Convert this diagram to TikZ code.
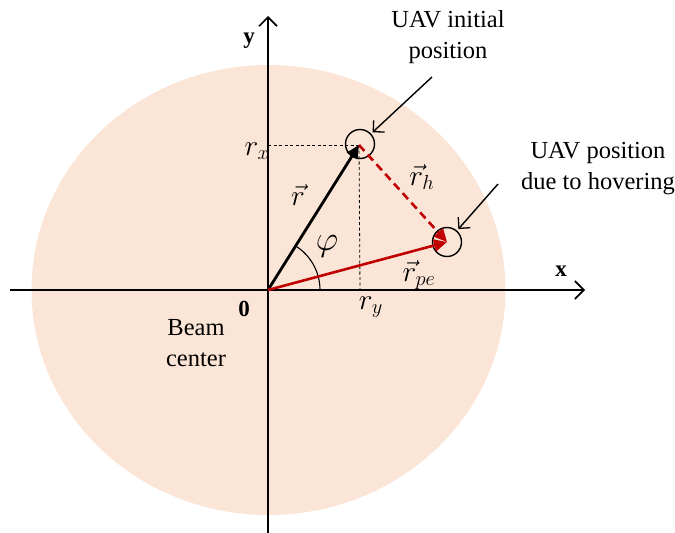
\documentclass[tikz,border=0pt]{standalone}
\usepackage{fontspec}
\setmainfont{Liberation Serif}
\usetikzlibrary{arrows.meta}
\definecolor{beam}{RGB}{251,229,214}
\definecolor{vred}{RGB}{192,0,0}
\newcommand{\mathlbl}[2]{\scalebox{#1}{$#2$}}
\begin{document}
\begin{tikzpicture}[x=1pt,y=-1pt,
  axis/.style={line width=1.8pt,-{Straight Barb[length=9pt,width=18pt,line width=1.6pt]}},
  vecblk/.style={line width=2.8pt,-{Triangle[length=13pt,width=12pt]}},
  vecred/.style={vred,line width=2.6pt,-{Triangle[length=13pt,width=12pt]}},
  vecreddash/.style={vred,line width=2.6pt,dash pattern=on 8pt off 5pt,-{Triangle[length=13pt,width=12pt]}},
  guide/.style={line width=0.8pt,dash pattern=on 3pt off 2.5pt},
  callout/.style={line width=1.4pt,-{Straight Barb[length=8pt,width=16pt,line width=1.3pt]},shorten >=2pt},
  uav/.style={draw,circle,line width=1.4pt,minimum size=29pt,inner sep=0pt},
  txt/.style={font=\fontsize{24.5}{31}\selectfont,align=center,inner sep=0pt},
  mlab/.style={font=\fontsize{24}{28}\selectfont,inner sep=0pt},
  blab/.style={font=\fontsize{23}{28}\selectfont\bfseries,inner sep=0pt}]
\useasboundingbox (0,0) rectangle (675,533);
\fill[beam] (268.5,290) ellipse [x radius=237pt, y radius=225pt];
% axes
\coordinate (O) at (268,290);
\coordinate (xs) at (10,290);
\coordinate (xe) at (585,290);
\coordinate (ys) at (268,533);
\coordinate (ye) at (268,16);
\draw[axis] (xs) -- (xe);
\draw[axis] (ys) -- (ye);
% positions
\node[uav] (c1) at (360,144) {};
\node[uav] (c2) at (447,242) {};
\coordinate (P1) at (359,145);
\coordinate (P2) at (447,242);
\coordinate (rxa) at (268,145);
\coordinate (rya) at (360,290);
% guides
\draw[guide] (rxa) -- (P1);
\draw[guide] (P1) -- (rya);
% phi arc
\draw[line width=1.1pt] (O) ++(52,0) arc[start angle=0,end angle=58,radius=52pt];
% vectors
\draw[vecblk] (O) -- (P1);
\draw[vecreddash] (P1) -- (P2);
\draw[vecred] (O) -- (P2);
% callouts
\coordinate (a1) at (432,77);
\coordinate (a2) at (498,184);
\draw[callout] (a1) -- (c1);
\draw[callout] (a2) -- (c2);
% labels
\node[blab] (ly) at (249,41) {y};
\node[blab] (lx) at (561,271) {x};
\node[blab] (l0) at (244,309) {0};
\node[mlab] (lrx) at (257,151) {\mathlbl{1.18}{r_x}};
\node[mlab] (lry) at (371,307) {\mathlbl{1.18}{r_y}};
\node[mlab] (lr) at (298,195) {\mathlbl{1.18}{\vec r}};
\node[mlab] (lphi) at (327,246) {\mathlbl{1.4}{\varphi}};
\node[mlab] (lrh) at (422,177) {\mathlbl{1.18}{\vec r_h}};
\node[mlab] (lrpe) at (419,275) {\mathlbl{1.18}{\vec r_{pe}}};
\node[txt] (beam) at (196,343) {Beam\\center};
\node[txt] (t1) at (448,37) {UAV initial\\position};
\node[txt] (t2) at (598,169) {UAV position\\due to hovering};
\end{tikzpicture}
\end{document}
